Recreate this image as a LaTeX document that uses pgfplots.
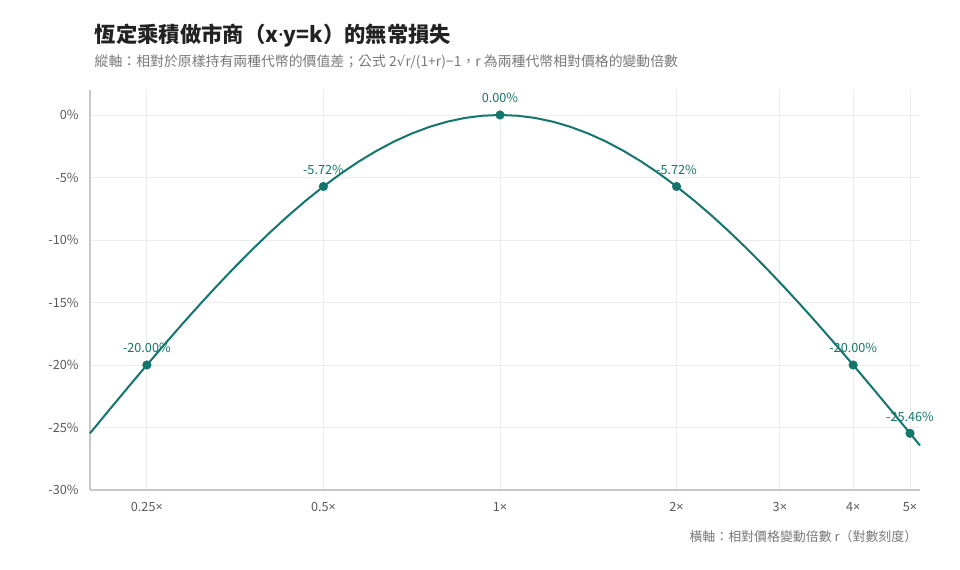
\documentclass[border=0pt]{standalone}
\usepackage{pgfplots}
\pgfplotsset{compat=1.18}
\usepackage{fontspec}
\setmainfont{Noto Sans CJK TC}
\newfontfamily\lat{Noto Sans}
\newfontfamily\dv{DejaVu Sans}
\definecolor{teal1}{RGB}{18,118,108}
\definecolor{gridc}{RGB}{236,236,236}
\definecolor{axc}{RGB}{200,200,200}
\definecolor{tickc}{RGB}{90,90,90}
\definecolor{subc}{RGB}{120,120,120}
\definecolor{titc}{RGB}{34,34,34}
\begin{document}
\begin{tikzpicture}
% canvas 960x570 px, 1px = 0.75pt, plot area origin at (90px,490px)
\useasboundingbox (-67.5pt,-60pt) rectangle (652.5pt,367.5pt);
\begin{axis}[
  scale only axis,
  width=622.5pt, height=300pt,
  xmode=log, log basis x=2,
  xmin=0.2, xmax=5.2,
  ymin=-30, ymax=2,
  xtick={0.25,0.5,1,2,3,4,5},
  xticklabels={0.25{\lat ×},0.5{\lat ×},1{\lat ×},2{\lat ×},3{\lat ×},4{\lat ×},5{\lat ×}},
  ytick={-30,-25,-20,-15,-10,-5,0},
  yticklabels={-30\%,-25\%,-20\%,-15\%,-10\%,-5\%,0\%},
  axis x line*=bottom, axis y line*=left,
  x axis line style={-, draw=axc, line width=1.5pt},
  y axis line style={-, draw=axc, line width=1.2pt},
  major tick length=0pt,
  grid=major,
  major grid style={draw=gridc, line width=0.6pt},
  tick label style={font=\fontsize{9.5}{11}\selectfont, text=tickc},
  xticklabel style={yshift=-6pt},
  yticklabel style={xshift=-5pt},
  clip=false,
]
\addplot[teal1, line width=1.5pt] coordinates {
 (0.2,-25.4644)(0.203063,-25.0870)(0.217638,-23.3735)(0.233258,-21.6761)
 (0.25,-20.0000)(0.267943,-18.3509)(0.287175,-16.7344)(0.307786,-15.1566)
 (0.329877,-13.6237)(0.353553,-12.1420)(0.378929,-10.7174)(0.406126,-9.3564)
 (0.435275,-8.0658)(0.466517,-6.8514)(0.5,-5.7191)(0.535887,-4.6749)
 (0.574349,-3.7242)(0.615572,-2.8723)(0.659754,-2.1238)(0.707107,-1.4829)
 (0.757858,-0.9533)(0.812252,-0.5381)(0.870551,-0.2397)(0.933033,-0.0600)
 (1,0)
 (1.071773,-0.0600)(1.148698,-0.2397)(1.231144,-0.5381)(1.319508,-0.9533)
 (1.414214,-1.4829)(1.515717,-2.1238)(1.624505,-2.8723)(1.741101,-3.7242)
 (1.866066,-4.6749)(2,-5.7191)(2.143547,-6.8514)(2.297397,-8.0658)
 (2.462289,-9.3564)(2.639016,-10.7174)(2.828427,-12.1420)(3.031433,-13.6237)
 (3.249010,-15.1566)(3.482202,-16.7344)(3.732132,-18.3509)(4,-20.0000)
 (4.287094,-21.6761)(4.594793,-23.3735)(4.924578,-25.0870)(5,-25.4644)
 (5.2,-26.4403)
};
\addplot[only marks, mark=*, mark size=3.2pt, teal1,
  nodes near coords, point meta=explicit symbolic,
  every node near coord/.append style={anchor=center, yshift=12.5pt,
    font=\fontsize{9.5}{11}\selectfont, text=teal1}] coordinates {
 (0.25,-20)[-20.00\%]
 (0.5,-5.7191)[-5.72\%]
 (1,0)[0.00\%]
 (2,-5.7191)[-5.72\%]
 (4,-20)[-20.00\%]
 (5,-25.4644)[-25.46\%]
};
\end{axis}
\node[anchor=west, text=titc, font=\fontsize{16}{19}\selectfont\bfseries] at (0pt,340.5pt) {恆定乘積做市商（x{\lat ·}y=k）的無常損失};
\node[anchor=west, text=subc, font=\fontsize{10.4}{12}\selectfont] at (0pt,321pt) {縱軸：相對於原樣持有兩種代幣的價值差；公式 2{\dv √}r/(1+r){\lat −}1，r 為兩種代幣相對價格的變動倍數};
\node[anchor=east, text=subc, font=\fontsize{9.7}{11}\selectfont] at (624pt,-35pt) {橫軸：相對價格變動倍數 r（對數刻度）};
\end{tikzpicture}
\end{document}
